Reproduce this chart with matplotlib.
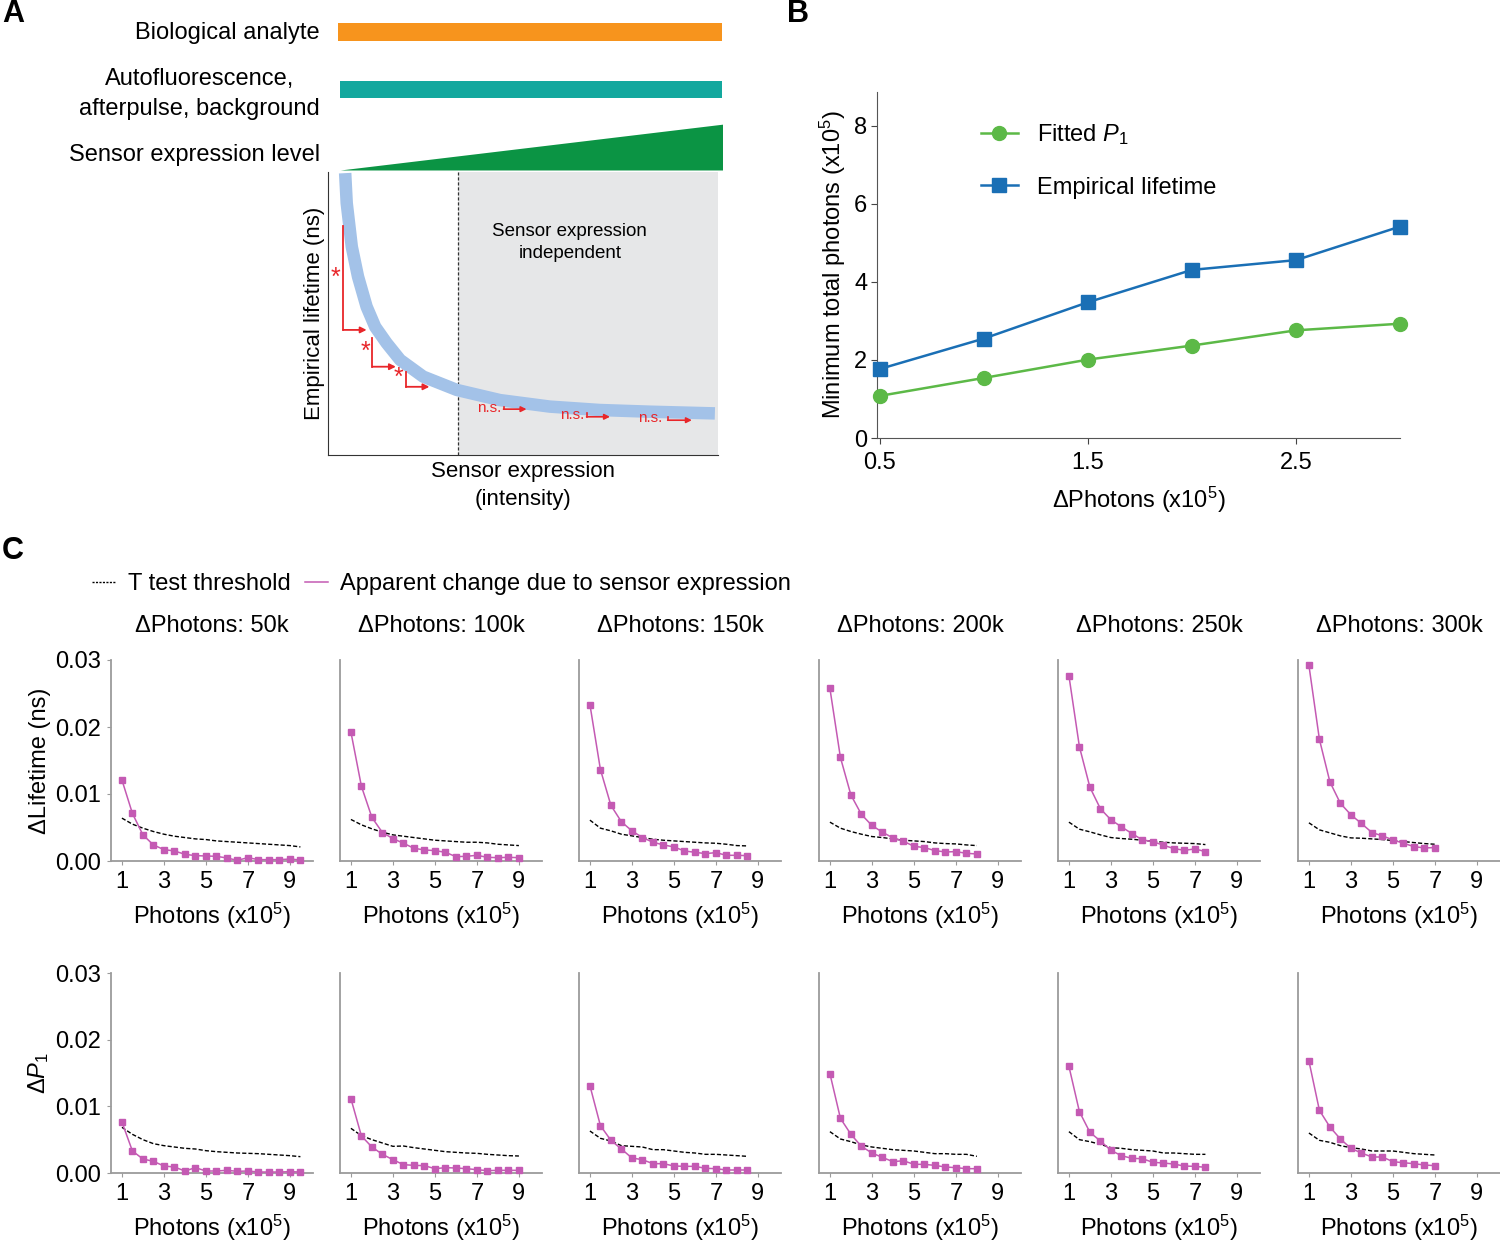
import matplotlib.pyplot as plt
import numpy as np

plt.rcParams['font.family'] = ['Liberation Sans', 'DejaVu Sans']
plt.rcParams['mathtext.fontset'] = 'custom'
plt.rcParams['mathtext.rm'] = 'Liberation Sans'
plt.rcParams['mathtext.it'] = 'Liberation Sans:italic'
plt.rcParams['mathtext.bf'] = 'Liberation Sans:bold'

# ---------------- data ----------------
# panel A (schematic)
a_rows = ['Biological analyte', 'Autofluorescence,\nafterpulse, background', 'Sensor expression level']
a_bar_start = [0.026, 0.031]
a_bar_end = [1.0, 1.005]
ramp_x = [0.031, 1.005]
ramp_level = [0.0, 1.0]

curve_x = [0.044, 0.048, 0.061, 0.077, 0.099, 0.121, 0.150, 0.185, 0.244, 0.330,
           0.441, 0.569, 0.697, 0.826, 0.992]
curve_y = [0.996, 0.890, 0.736, 0.630, 0.524, 0.453, 0.396, 0.336, 0.277, 0.230,
           0.194, 0.171, 0.159, 0.153, 0.147]
threshold_intensity = 0.333
# significant steps: x, y top, y bottom, arrow end, star x, star y
sig_x = [0.039, 0.114, 0.200]
sig_top = [0.809, 0.412, 0.294]
sig_bot = [0.442, 0.312, 0.241]
sig_end = [0.099, 0.174, 0.260]
star_x = [0.018, 0.097, 0.180]
star_y = [0.625, 0.365, 0.271]
# non significant steps
ns_text_x = [0.381, 0.595, 0.796]
ns_text_y = [0.166, 0.141, 0.130]
ns_x = [0.450, 0.663, 0.871]
ns_top = [0.171, 0.147, 0.135]
ns_bot = [0.162, 0.135, 0.123]
ns_end = [0.509, 0.723, 0.933]

# panel B
b_dphotons = [0.5, 1.0, 1.5, 2.0, 2.5, 3.0]
b_fitted = [1.08, 1.54, 2.01, 2.37, 2.76, 2.93]
b_empirical = [1.77, 2.55, 3.48, 4.31, 4.56, 5.42]

# panel C
c_titles = ['ΔPhotons: 50k', 'ΔPhotons: 100k', 'ΔPhotons: 150k',
            'ΔPhotons: 200k', 'ΔPhotons: 250k', 'ΔPhotons: 300k']
photon_steps = [1, 1.5, 2, 2.5, 3, 3.5, 4, 4.5, 5, 5.5, 6, 6.5, 7, 7.5, 8, 8.5, 9, 9.5]

life_change = [
    [0.0121, 0.0071, 0.0039, 0.0024, 0.0017, 0.0015, 0.0010, 0.0008, 0.00075, 0.0007,
     0.00045, 0.0001, 0.0005, 0.0002, 0.0002, 0.0002, 0.0003, 0.00015],
    [0.01925, 0.01115, 0.0065, 0.00425, 0.00335, 0.00265, 0.0019, 0.00165, 0.00155, 0.0013,
     0.00065, 0.0007, 0.00085, 0.00055, 0.0005, 0.00055, 0.0005],
    [0.02335, 0.01365, 0.0083, 0.00585, 0.0045, 0.0035, 0.0028, 0.0024, 0.0021, 0.0015,
     0.0013, 0.0011, 0.00125, 0.00085, 0.00085, 0.0008],
    [0.02575, 0.01545, 0.00985, 0.00695, 0.0053, 0.0043, 0.00345, 0.00295, 0.0022, 0.0020,
     0.00155, 0.00135, 0.0014, 0.00115, 0.00105],
    [0.02765, 0.01705, 0.0110, 0.0078, 0.00615, 0.0051, 0.0041, 0.00315, 0.0029, 0.00235,
     0.00185, 0.0016, 0.0018, 0.0014],
    [0.0292, 0.01815, 0.0118, 0.0086, 0.0069, 0.0056, 0.00425, 0.00375, 0.00315, 0.00265,
     0.00215, 0.00195, 0.0020],
]
life_thresh = [
    [0.0064, 0.0055, 0.0049, 0.0044, 0.0040, 0.0037, 0.0035, 0.0033, 0.0032, 0.0030,
     0.0029, 0.0028, 0.0027, 0.0026, 0.0025, 0.0024, 0.0023, 0.0021],
    [0.0062, 0.0054, 0.0048, 0.0043, 0.0039, 0.0037, 0.0035, 0.0033, 0.0031, 0.0030,
     0.0029, 0.0028, 0.0028, 0.0027, 0.0025, 0.0024, 0.0023],
    [0.0061, 0.0049, 0.0045, 0.0040, 0.00375, 0.0035, 0.00325, 0.0031, 0.0030, 0.0029,
     0.0028, 0.0027, 0.00265, 0.0025, 0.0023, 0.00225],
    [0.0058, 0.0049, 0.0044, 0.0040, 0.00365, 0.0035, 0.0033, 0.0031, 0.0030, 0.0029,
     0.0027, 0.0026, 0.00255, 0.0024, 0.0023],
    [0.0058, 0.00475, 0.00435, 0.0039, 0.0035, 0.00335, 0.00325, 0.0031, 0.00295, 0.0028,
     0.0027, 0.00265, 0.0026, 0.00245],
    [0.0057, 0.00465, 0.0042, 0.00375, 0.00345, 0.0034, 0.0033, 0.0032, 0.00305, 0.0029,
     0.00275, 0.0026, 0.0025],
]
p1_change = [
    [0.00765, 0.0033, 0.0021, 0.00175, 0.00105, 0.0009, 0.0003, 0.0008, 0.0003, 0.0003,
     0.0004, 0.00025, 0.0003, 0.00015, 0.00015, 0.00015, 0.0002, 0.00015],
    [0.01115, 0.00555, 0.0039, 0.0028, 0.0020, 0.00125, 0.00115, 0.0011, 0.00065, 0.0008,
     0.00075, 0.00065, 0.0005, 0.00035, 0.0004, 0.0004, 0.0004],
    [0.0131, 0.0071, 0.0049, 0.0036, 0.00225, 0.0020, 0.0014, 0.0014, 0.00105, 0.0010,
     0.0010, 0.0007, 0.00065, 0.00045, 0.00045, 0.00045],
    [0.0149, 0.0082, 0.0058, 0.0040, 0.0030, 0.00234, 0.0017, 0.00184, 0.0013, 0.0013,
     0.00114, 0.0009, 0.0008, 0.00065, 0.00065],
    [0.0160, 0.0092, 0.0061, 0.0048, 0.0034, 0.0026, 0.0022, 0.00214, 0.0016, 0.0015,
     0.00134, 0.00104, 0.0010, 0.00085],
    [0.0168, 0.0094, 0.0069, 0.0051, 0.0037, 0.0030, 0.0024, 0.0024, 0.0017, 0.00154,
     0.0014, 0.0012, 0.0011],
]
p1_thresh = [
    [0.00685, 0.0058, 0.0050, 0.0044, 0.0041, 0.0039, 0.0037, 0.0036, 0.00335, 0.0032,
     0.0031, 0.0030, 0.00295, 0.0029, 0.0028, 0.0027, 0.0026, 0.00245],
    [0.0067, 0.0056, 0.0050, 0.0045, 0.0040, 0.00405, 0.0038, 0.0036, 0.0034, 0.0032,
     0.0031, 0.0030, 0.00295, 0.0028, 0.0027, 0.0026, 0.00255],
    [0.0063, 0.0052, 0.0048, 0.0041, 0.0040, 0.0039, 0.0035, 0.0035, 0.0033, 0.0031,
     0.0030, 0.0028, 0.0028, 0.0027, 0.0026, 0.0025],
    [0.0062, 0.0051, 0.0047, 0.0042, 0.0039, 0.0037, 0.0035, 0.0034, 0.0033, 0.0031,
     0.0029, 0.0029, 0.0028, 0.0028, 0.0025],
    [0.0062, 0.0050, 0.0047, 0.0043, 0.0038, 0.0037, 0.0035, 0.0034, 0.0033, 0.0030,
     0.0030, 0.0029, 0.0028, 0.0028],
    [0.0060, 0.0049, 0.0046, 0.0041, 0.0038, 0.0036, 0.0033, 0.0033, 0.0033, 0.0031,
     0.0029, 0.0028, 0.0027],
]

# ---------------- figure ----------------
W, H = 1500, 1241
fig = plt.figure(figsize=(15, 12.41), dpi=100)


def box(l, t, r, b):
    return [l / W, 1 - b / H, (r - l) / W, (b - t) / H]


FS = 17
RED = '#e8262a'
GRAY = '#9b9b9b'
MAG = '#c45ab3'

# ---- panel A: bars ----
axb = fig.add_axes(box(328, 15, 722, 172))
axb.barh([0, 1], np.array(a_bar_end) - np.array(a_bar_start), left=a_bar_start,
         height=[0.31, 0.30], color=['#f7941d', '#13a89e'])
axb.fill_between(ramp_x, 2.4, 2.4 - np.array(ramp_level) * 0.8, color='#0b9444', lw=0)
axb.set_xlim(0, 1)
axb.set_ylim(2.435, -0.296)
axb.set_yticks([-0.03, 0.97, 2.1])
axb.set_yticklabels(a_rows, fontsize=FS)
for lbl in axb.get_yticklabels():
    lbl.set_multialignment('center')
    lbl.set_linespacing(1.45)
axb.tick_params(axis='y', length=0, pad=6)
axb.set_xticks([])
for s in axb.spines.values():
    s.set_visible(False)

# ---- panel A: schematic curve ----
axs = fig.add_axes(box(328, 172, 718, 455))
axs.axvspan(threshold_intensity, 1, color='#e6e7e8', lw=0)
axs.axvline(threshold_intensity, color='#333333', ls=(0, (2.5, 1.5)), lw=0.9)
axs.plot(curve_x, curve_y, color='#a3c2e8', lw=9, solid_capstyle='butt')
for i in range(3):
    axs.plot([sig_x[i], sig_x[i]], [sig_top[i], sig_bot[i]], color=RED, lw=1.3)
    axs.annotate('', xy=(sig_end[i], sig_bot[i]), xytext=(sig_x[i], sig_bot[i]),
                 arrowprops=dict(arrowstyle='-|>', color=RED, lw=1.3, mutation_scale=9,
                                 shrinkA=0, shrinkB=0))
    axs.text(star_x[i], star_y[i], '*', color=RED, fontsize=18, ha='center', va='center')
    axs.text(ns_text_x[i], ns_text_y[i], 'n.s.', color=RED, fontsize=11, ha='left', va='center')
    axs.plot([ns_x[i], ns_x[i]], [ns_top[i], ns_bot[i]], color=RED, lw=1.2)
    axs.annotate('', xy=(ns_end[i], ns_bot[i]), xytext=(ns_x[i], ns_bot[i]),
                 arrowprops=dict(arrowstyle='-|>', color=RED, lw=1.2, mutation_scale=8,
                                 shrinkA=0, shrinkB=0))
axs.text(0.62, 0.75, 'Sensor expression\nindependent', fontsize=13.5, ha='center',
         va='center', linespacing=1.35)
axs.set_xlim(0, 1)
axs.set_ylim(0, 1)
axs.set_xticks([])
axs.set_yticks([])
axs.spines['top'].set_visible(False)
axs.spines['right'].set_visible(False)
axs.spines['left'].set_color('#333333')
axs.spines['bottom'].set_color('#333333')
axs.set_ylabel('Empirical lifetime (ns)', fontsize=16, labelpad=2)
axs.set_xlabel('Sensor expression\n(intensity)', fontsize=16, labelpad=4, linespacing=1.45)

# ---- panel B ----
axB = fig.add_axes(box(877, 92, 1400, 438))
axB.plot(b_dphotons, b_fitted, color='#5cb947', lw=1.8, marker='o', ms=10,
         label='Fitted $\\mathit{P_1}$', clip_on=False, zorder=3)
axB.plot(b_dphotons, b_empirical, color='#1a6fb5', lw=1.8, marker='s', ms=10,
         label='Empirical lifetime', clip_on=False, zorder=3)
axB.set_xlim(0.486, 3.0)
axB.set_ylim(0, 8.87)
axB.set_xticks([0.5, 1.5, 2.5])
axB.set_xticklabels(['0.5', '1.5', '2.5'])
axB.set_yticks([0, 2, 4, 6, 8])
axB.tick_params(labelsize=FS, length=4, color='#444444', pad=3)
axB.tick_params(axis='x', pad=6)
for s in ['top', 'right']:
    axB.spines[s].set_visible(False)
for s in ['left', 'bottom']:
    axB.spines[s].set_color('#555555')
axB.set_xlabel('ΔPhotons (x10$^5$)', fontsize=FS, labelpad=8)
axB.set_ylabel('Minimum total photons (x10$^5$)', fontsize=FS, labelpad=4)
axB.legend(loc='upper left', bbox_to_anchor=(0.18, 0.94), frameon=False, fontsize=FS,
           handlelength=1.6, handletextpad=0.8, labelspacing=1.25, borderaxespad=0)

# ---- panel C ----
col_left = [111, 340, 579, 819, 1058, 1298]
ax_w = 202
rows_tb = [(660, 861), (973, 1173)]
row_change = [life_change, p1_change]
row_thresh = [life_thresh, p1_thresh]
row_ylabel = ['ΔLifetime (ns)', 'Δ$\\mathit{P_1}$']

for r in range(2):
    top, bot = rows_tb[r]
    for c in range(6):
        ax = fig.add_axes(box(col_left[c], top, col_left[c] + ax_w, bot))
        yv = row_change[r][c]
        tv = row_thresh[r][c]
        ax.plot(photon_steps[:len(tv)], tv, color='black', lw=1.0, ls=(0, (3, 1.5)),
                zorder=3)
        ax.plot(photon_steps[:len(yv)], yv, color=MAG, lw=1.1, marker='s', ms=4,
                clip_on=False, zorder=4)
        ax.set_xlim(0.48, 10.1)
        ax.set_ylim(0, 0.03)
        ax.set_xticks([1, 3, 5, 7, 9])
        ax.set_yticks([0, 0.01, 0.02, 0.03])
        ax.tick_params(labelsize=FS, length=3, color=GRAY, pad=4)
        for s in ['top', 'right']:
            ax.spines[s].set_visible(False)
        for s in ['left', 'bottom']:
            ax.spines[s].set_color(GRAY)
            ax.spines[s].set_linewidth(1.3)
        ax.set_xlabel('Photons (x10$^5$)', fontsize=FS, labelpad=6)
        if c == 0:
            ax.set_yticklabels(['0.00', '0.01', '0.02', '0.03'])
            ax.set_ylabel(row_ylabel[r], fontsize=FS, labelpad=3)
        else:
            ax.set_yticklabels([])
            ax.tick_params(axis='y', length=0)
        if r == 0:
            ax.set_title(c_titles[c], fontsize=FS, pad=20)
            if c == 0:
                h_thr, = ax.plot([], [], color='black', lw=1.0, ls=(0, (1.5, 1)))
                h_mag, = ax.plot([], [], color=MAG, lw=1.1)

fig.legend([h_thr, h_mag], ['T test threshold', 'Apparent change due to sensor expression'],
           loc='center left', bbox_to_anchor=(71 / W, 1 - 584 / H), ncol=2, frameon=False,
           fontsize=FS, handlelength=1.0, handletextpad=0.5, columnspacing=0.6)

# panel letters
for lab, x, y in [('A', 2, 14), ('B', 787, 14), ('C', 2, 551)]:
    fig.text(x / W, 1 - y / H, lab, fontsize=22, fontweight='bold', ha='left', va='center')

fig.savefig('out.png', dpi=100)
